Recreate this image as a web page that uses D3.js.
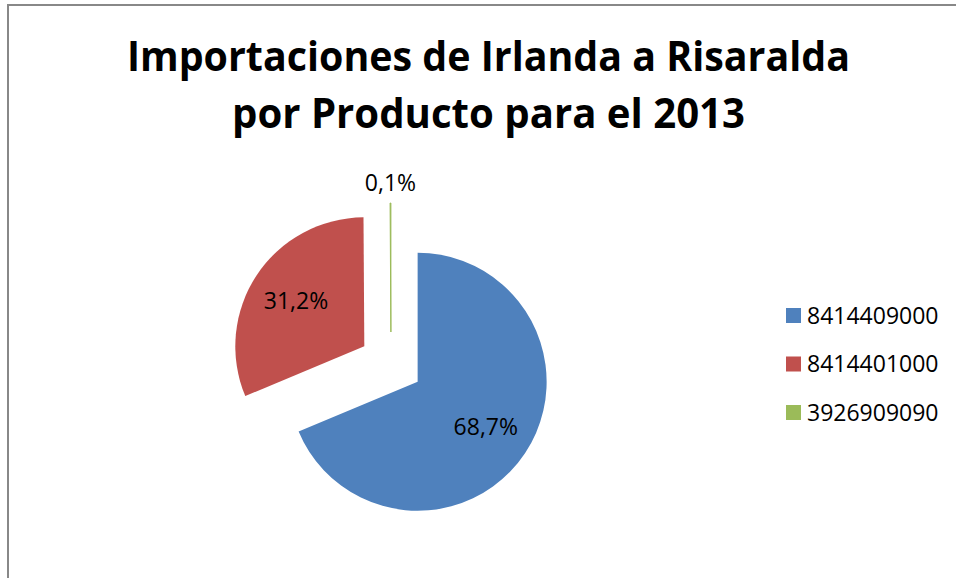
<!DOCTYPE html>
<html>
<head>
<meta charset="utf-8">
<script src="https://cdn.jsdelivr.net/npm/d3@7"></script>
<style>
  html, body { margin: 0; padding: 0; background: #fff; }
  svg { display: block; }
</style>
</head>
<body>
<svg id="chart" width="956" height="578"></svg>
<script>
const titleLines = ["Importaciones de Irlanda a Risaralda", "por Producto para el 2013"];
const categories = ["8414409000", "8414401000", "3926909090"];
const shares = [68.7, 31.2, 0.1];
const labels = ["68,7%", "31,2%", "0,1%"];
const colors = ["#4F81BD", "#C0504D", "#9BBB59"];

const svg = d3.select("#chart");
const W = 956, H = 578;
const font = "'Open Sans', 'Liberation Sans', sans-serif";

// border
svg.append("path")
  .attr("d", `M8,${H} L8,5 L${W},5`)
  .attr("fill", "none")
  .attr("stroke", "#888")
  .attr("stroke-width", 2);

// title
const titleWidths = [723, 513];
const titleBase = [71, 128];
titleLines.forEach((t, i) => {
  svg.append("text")
    .attr("x", 488.5).attr("y", titleBase[i])
    .attr("text-anchor", "middle")
    .attr("font-family", font)
    .attr("font-weight", "bold")
    .attr("font-size", 41)
    .attr("fill", "#000")
    .attr("textLength", titleWidths[i])
    .attr("lengthAdjust", "spacingAndGlyphs")
    .text(t);
});

// pie
const cx = 391, cy = 364, R = 129, explode = 32;
const pie = d3.pie().sort(null).value(d => d)(shares);
const arc = d3.arc().innerRadius(0).outerRadius(R);
const labelArc = d3.arc().innerRadius(R * 1.26).outerRadius(R * 0);
const g = svg.append("g").attr("transform", `translate(${cx},${cy})`);

pie.forEach((p, i) => {
  const mid = (p.startAngle + p.endAngle) / 2;
  const dx = Math.sin(mid) * explode, dy = -Math.cos(mid) * explode;
  const sg = g.append("g").attr("transform", `translate(${dx},${dy})`);
  sg.append("path")
    .attr("d", arc(p))
    .attr("fill", colors[i])
    .attr("stroke", (p.endAngle - p.startAngle) < 0.05 ? colors[i] : "none")
    .attr("stroke-width", 1);
  let lx, ly;
  if (p.endAngle - p.startAngle < 0.2) {
    const rr = R + 20;
    lx = Math.sin(mid) * rr; ly = -Math.cos(mid) * rr;
  } else {
    const rr = R * 0.635;
    lx = Math.sin(mid) * rr; ly = -Math.cos(mid) * rr;
  }
  sg.append("text")
    .attr("x", lx).attr("y", ly)
    .attr("text-anchor", "middle")
    .attr("dy", "0.35em")
    .attr("font-family", font)
    .attr("font-size", 23)
    .attr("fill", "#000")
    .text(labels[i]);
});

// legend
const legendY = d3.scalePoint().domain(categories).range([315.5, 412.5]);
const lg = svg.append("g");
categories.forEach((c, i) => {
  const y = legendY(c);
  lg.append("rect")
    .attr("x", 786).attr("y", y - 7.5)
    .attr("width", 15).attr("height", 15)
    .attr("fill", colors[i]);
  lg.append("text")
    .attr("x", 807).attr("y", y)
    .attr("dy", "0.36em")
    .attr("font-family", font)
    .attr("font-size", 23)
    .attr("fill", "#000")
    .text(c);
});
</script>
</body>
</html>
